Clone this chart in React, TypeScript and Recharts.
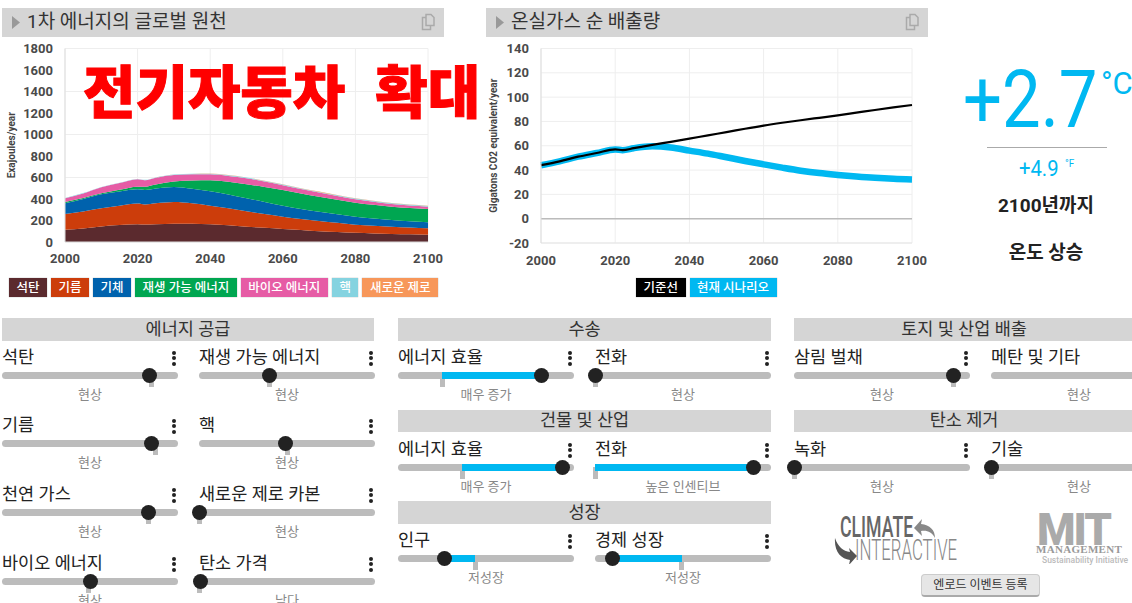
import { Area, AreaChart, CartesianGrid, Line, LineChart, ReferenceLine, XAxis, YAxis } from "recharts"

const FONT = 'Roboto, "Noto Sans CJK KR", sans-serif'
const BLUE = "#00b8f1"

const xTicks = [2000, 2020, 2040, 2060, 2080, 2100]
const sourceTicks = [0, 200, 400, 600, 800, 1000, 1200, 1400, 1600, 1800]
const emissionTicks = [-20, 0, 20, 40, 60, 80, 100, 120, 140]

// primary energy, exajoules per year, one thickness per layer
const energyYears = [2000, 2005, 2010, 2015, 2020, 2022, 2025, 2030, 2035, 2040, 2045, 2050, 2055, 2060, 2065, 2070, 2075, 2080, 2085, 2090, 2095, 2100]
const coal = [115, 125, 145, 158, 165, 162, 165, 170, 170, 165, 155, 142, 132, 122, 112, 100, 93, 85, 80, 75, 72, 68]
const oil = [145, 158, 168, 180, 192, 188, 195, 202, 190, 173, 158, 143, 128, 114, 103, 95, 85, 76, 71, 68, 62, 59]
const gas = [100, 117, 131, 132, 133, 134, 138, 140, 136, 134, 130, 122, 113, 102, 93, 87, 80, 75, 68, 62, 59, 56]
const renewables = [12, 10, 9, 16, 25, 31, 37, 50, 76, 103, 117, 130, 139, 146, 144, 140, 135, 130, 127, 124, 124, 124]
const bioenergy = [35, 42, 56, 62, 69, 60, 63, 62, 58, 55, 55, 56, 50, 44, 40, 38, 35, 32, 29, 25, 23, 22]
const nuclear = [3, 3, 3, 3, 3, 3, 3, 4, 5, 6, 6, 6, 6, 6, 6, 6, 6, 6, 6, 6, 6, 6]
const newZero = [0, 0, 0, 0, 0, 0, 0, 0, 1, 1, 2, 2, 2, 3, 3, 3, 3, 3, 3, 3, 3, 3]

const sourceNames = ["석탄", "기름", "기체", "재생 가능 에너지", "바이오 에너지", "핵", "새로운 제로"]
const sourceColors = ["#5b2a2e", "#cc3d0b", "#0062ad", "#00a651", "#e65ca5", "#85d3e0", "#f7975a"]
const sourceSeries = [coal, oil, gas, renewables, bioenergy, nuclear, newZero]

const energyRows = energyYears.map((year, i) => {
  const row: Record<string, number> = { year }
  sourceNames.forEach((name, s) => {
    row[name] = sourceSeries[s][i]
  })
  return row
})

// net emissions, gigatons CO2e per year
const emissionYears = [2000, 2005, 2010, 2015, 2020, 2022, 2025, 2030, 2035, 2040, 2045, 2050, 2055, 2060, 2065, 2070, 2075, 2080, 2085, 2090, 2095, 2100]
const baseline = [44, 47.2, 51, 54, 57, 56.4, 58, 60.7, 63.2, 65.8, 68.6, 71.2, 74, 76.6, 78.9, 81, 83, 85, 87.2, 89.4, 91.5, 93.5]
const scenario = [44, 47.2, 51, 54, 57, 56.4, 58, 59.5, 58.5, 56, 53.5, 50.5, 47.5, 44.7, 42, 39.5, 37.5, 36, 34.7, 33.6, 32.8, 32.3]

const emissionRows = emissionYears.map((year, i) => ({ year, baseline: baseline[i], scenario: scenario[i] }))

// sliders: [label, caption, knob, base], knob and base as a share of the track
type Control = [string, string, number, number]
const supplyControls: Control[] = [
  ["석탄", "현상", 0.838, 0.847],
  ["재생 가능 에너지", "현상", 0.398, 0.398],
  ["기름", "현상", 0.852, 0.87],
  ["핵", "현상", 0.494, 0.5],
  ["천연 가스", "현상", 0.835, 0.835],
  ["새로운 제로 카본", "현상", 0, 0],
  ["바이오 에너지", "현상", 0.5, 0.494],
  ["탄소 가격", "낮다", 0.011, 0],
]
const transportControls: Control[] = [
  ["에너지 효율", "매우 증가", 0.818, 0.25],
  ["전화", "현상", 0, 0],
]
const buildingControls: Control[] = [
  ["에너지 효율", "매우 증가", 0.932, 0.364],
  ["전화", "높은 인센티브", 0.898, 0],
]
const growthControls: Control[] = [
  ["인구", "저성장", 0.267, 0.4375],
  ["경제 성장", "저성장", 0.097, 0.494],
]
const landControls: Control[] = [
  ["삼림 벌채", "현상", 0.909, 0.909],
  ["메탄 및 기타", "현상", 0.9, 0.9],
]
const removalControls: Control[] = [
  ["녹화", "현상", 0, 0],
  ["기술", "현상", 0, 0],
]

const axisTick = { fontSize: 13, fontWeight: 700, fill: "#4a4a4a", fontFamily: FONT }

function Abs({ x, y, w, h, style, children }: any) {
  return <div style={{ position: "absolute", left: x, top: y, width: w, height: h, ...style }}>{children}</div>
}

function CopyIcon({ x, y }: { x: number; y: number }) {
  return (
    <svg style={{ position: "absolute", left: x, top: y }} width="16" height="18">
      <path d="M6 1.5h5l3 3v8h-8z M6 4.5H2.5v12h8v-4" fill="none" stroke="#aaa" strokeWidth="1.5" />
    </svg>
  )
}

function PanelTitle({ x, title }: { x: number; title: string }) {
  return (
    <Abs x={x} y={8} w={442} h={29} style={{ background: "#d5d5d5" }}>
      <svg style={{ position: "absolute", left: 10, top: 8 }} width="9" height="13">
        <path d="M0 0L8 6.5L0 13z" fill="#999" />
      </svg>
      <div style={{ position: "absolute", left: 25, top: 0, lineHeight: "28px", fontSize: 19, color: "#333", whiteSpace: "nowrap" }}>{title}</div>
      <CopyIcon x={418} y={5} />
    </Abs>
  )
}

function Badges({ x, names, colors }: any) {
  return (
    <div style={{ position: "absolute", left: x, top: 278, display: "flex", gap: 4 }}>
      {names.map((name: string, i: number) => (
        <div
          key={name}
          style={{
            background: colors[i],
            color: "#fff",
            fontSize: 12.5,
            fontWeight: 500,
            lineHeight: "19px",
            height: 19,
            padding: "0 7.5px",
            whiteSpace: "nowrap",
            boxShadow: "0 0 1px #999",
          }}
        >
          {name}
        </div>
      ))}
    </div>
  )
}

function SectionHeader({ x, y, w, h, title }: any) {
  return (
    <Abs x={x} y={y} w={w} h={h} style={{ background: "#d5d5d5", textAlign: "center", lineHeight: h - 1 + "px", fontSize: 17.5, color: "#333" }}>
      {title}
    </Abs>
  )
}

function Slider({ x, y, control }: { x: number; y: number; control: Control }) {
  const [label, caption, knob, base] = control
  const W = 176
  const knobX = knob * W
  const baseX = base * W
  const from = Math.min(knobX, baseX)
  const to = Math.max(knobX, baseX)
  return (
    <Abs x={x} y={y} w={W} h={0}>
      <div style={{ position: "absolute", left: -2, top: -30, fontSize: 17.5, lineHeight: "24px", color: "#222", whiteSpace: "nowrap", paddingLeft: 2 }}>{label}</div>
      {[-24.5, -19, -13.5].map((dy) => (
        <div key={dy} style={{ position: "absolute", left: 170, top: dy, width: 4, height: 4, borderRadius: 2, background: "#222" }} />
      ))}
      <div style={{ position: "absolute", left: 0, top: -3.5, width: W, height: 7, borderRadius: 3.5, background: "#bcbcbc" }} />
      <div style={{ position: "absolute", left: baseX - 2.5, top: 0, width: 5, height: 12, background: "#bcbcbc" }} />
      {to - from > 1 && <div style={{ position: "absolute", left: from, top: -3.5, width: to - from, height: 7, background: BLUE }} />}
      <div style={{ position: "absolute", left: knobX - 7.5, top: -7.5, width: 15, height: 15, borderRadius: 8, background: "#222" }} />
      <div style={{ position: "absolute", left: 0, width: W, top: 10.5, textAlign: "center", fontSize: 13, lineHeight: "18px", color: "#888" }}>{caption}</div>
    </Abs>
  )
}

function SliderRow({ x, y, controls }: { x: number; y: number; controls: Control[] }) {
  return (
    <>
      <Slider x={x} y={y} control={controls[0]} />
      <Slider x={x + 197} y={y} control={controls[1]} />
    </>
  )
}

export default function App() {
  return (
    <div style={{ position: "fixed", left: 0, top: 0, width: 1132, height: 603, overflow: "hidden", background: "#fff", fontFamily: FONT }}>
      <PanelTitle x={2} title="1차 에너지의 글로벌 원천" />
      <PanelTitle x={486} title="온실가스 순 배출량" />

      <Abs x={0} y={0} w={450} h={275}>
        <AreaChart width={450} height={275} data={energyRows} margin={{ top: 48.5, right: 22, bottom: 10, left: 10 }}>
          <CartesianGrid stroke="#eeeeee" />
          <XAxis dataKey="year" type="number" domain={[2000, 2100]} ticks={xTicks} height={23} tick={axisTick} tickLine={false} axisLine={{ stroke: "#dddddd" }} tickMargin={6} />
          <YAxis
            domain={[0, 1800]}
            ticks={sourceTicks}
            width={55}
            tick={axisTick}
            tickLine={false}
            axisLine={{ stroke: "#dddddd" }}
            tickMargin={6}
            label={{ value: "Exajoules/year", angle: -90, position: "insideLeft", offset: 0, dx: 1, dy: 0, style: { fontSize: 10, fontWeight: 700, fill: "#444", textAnchor: "middle" } }}
          />
          {sourceNames.map((name, i) => (
            <Area key={name} dataKey={name} stackId="energy" type="monotone" fill={sourceColors[i]} fillOpacity={1} stroke="none" isAnimationActive={false} />
          ))}
        </AreaChart>
      </Abs>

      <Abs x={480} y={0} w={450} h={275}>
        <LineChart width={450} height={275} data={emissionRows} margin={{ top: 48.5, right: 18, bottom: 10, left: 10 }}>
          <CartesianGrid stroke="#eeeeee" />
          <XAxis dataKey="year" type="number" domain={[2000, 2100]} ticks={xTicks} height={22} tick={axisTick} tickLine={false} axisLine={{ stroke: "#e5e5e5" }} tickMargin={7} />
          <YAxis
            domain={[-20, 140]}
            ticks={emissionTicks}
            width={51}
            tick={axisTick}
            tickLine={false}
            axisLine={{ stroke: "#dddddd" }}
            tickMargin={6}
            label={{ value: "Gigatons CO2 equivalent/year", angle: -90, position: "insideLeft", offset: 0, dx: 3, dy: 0, style: { fontSize: 10, fontWeight: 700, fill: "#444", textAnchor: "middle" } }}
          />
          <ReferenceLine y={0} stroke="#bbbbbb" strokeWidth={1.5} />
          <Line dataKey="scenario" type="monotone" stroke={BLUE} strokeWidth={6.5} dot={false} isAnimationActive={false} />
          <Line dataKey="baseline" type="monotone" stroke="#000" strokeWidth={2.2} dot={false} isAnimationActive={false} />
        </LineChart>
      </Abs>

      <div style={{ position: "absolute", left: 83, top: 48, fontSize: 57, lineHeight: "80px", fontWeight: 900, color: "#ff0000", whiteSpace: "nowrap", wordSpacing: 17, fontFamily: '"Noto Sans CJK KR", sans-serif', WebkitTextStroke: "1px #ff0000" }}>
        전기자동차 확대
      </div>

      <Badges x={9} names={sourceNames} colors={sourceColors} />
      <Badges x={636} names={["기준선", "현재 시나리오"]} colors={["#000000", BLUE]} />

      <div style={{ position: "absolute", left: 963, top: 45, fontSize: 80, lineHeight: "110px", fontWeight: 400, color: BLUE, whiteSpace: "nowrap", transform: "scaleX(0.86)", transformOrigin: "left top" }}>+2.7</div>
      <div style={{ position: "absolute", left: 1101, top: 66, fontSize: 31, lineHeight: "36px", fontWeight: 400, color: BLUE, whiteSpace: "nowrap" }}>°C</div>
      <Abs x={987} y={147} w={120} h={1} style={{ background: "#aaa" }} />
      <div style={{ position: "absolute", left: 1019, top: 155, fontSize: 22, lineHeight: "28px", fontWeight: 400, color: BLUE, whiteSpace: "nowrap", transform: "scaleX(0.92)", transformOrigin: "left top" }}>+4.9</div>
      <div style={{ position: "absolute", left: 1065, top: 158, fontSize: 10, lineHeight: "12px", color: BLUE }}>°F</div>
      <Abs x={960} y={194} w={172} h={24} style={{ textAlign: "center", fontSize: 19, fontWeight: 700, lineHeight: "24px", color: "#222" }}>2100년까지</Abs>
      <Abs x={960} y={241} w={172} h={24} style={{ textAlign: "center", fontSize: 19, fontWeight: 700, lineHeight: "24px", color: "#222" }}>온도 상승</Abs>

      <SectionHeader x={2} y={318} w={372} h={23} title="에너지 공급" />
      <SliderRow x={2} y={375} controls={supplyControls.slice(0, 2)} />
      <SliderRow x={2} y={443} controls={supplyControls.slice(2, 4)} />
      <SliderRow x={2} y={512} controls={supplyControls.slice(4, 6)} />
      <SliderRow x={2} y={581} controls={supplyControls.slice(6, 8)} />

      <SectionHeader x={398} y={318} w={373} h={23} title="수송" />
      <SliderRow x={398} y={375} controls={transportControls} />
      <SectionHeader x={398} y={410} w={373} h={22} title="건물 및 산업" />
      <SliderRow x={398} y={467} controls={buildingControls} />
      <SectionHeader x={398} y={501} w={373} h={23} title="성장" />
      <SliderRow x={398} y={558} controls={growthControls} />

      <SectionHeader x={794} y={318} w={340} h={23} title="토지 및 산업 배출" />
      <SliderRow x={794} y={375} controls={landControls} />
      <SectionHeader x={794} y={410} w={340} h={22} title="탄소 제거" />
      <SliderRow x={794} y={467} controls={removalControls} />

      {/* logos */}
      <div style={{ position: "absolute", left: 840, top: 516, fontSize: 29, lineHeight: "22px", fontWeight: 500, color: "#666", transform: "scaleX(0.61)", transformOrigin: "left top", whiteSpace: "nowrap" }}>CLIMATE</div>
      <div style={{ position: "absolute", left: 855, top: 539, fontSize: 29, lineHeight: "22px", fontWeight: 300, color: "#888", transform: "scaleX(0.58)", transformOrigin: "left top", whiteSpace: "nowrap" }}>INTERACTIVE</div>
      <svg style={{ position: "absolute", left: 832, top: 514 }} width="104" height="50">
        <path d="M82 14L90 5L89 10C98 11 103 16 103 24C100 18 95 16 89 17L90 22z" fill="#888" />
        <path d="M25 42L17 51L18 46C9 45 2 38 3 24C6 33 11 37 18 38L17 34z" fill="#555" />
      </svg>
      <div style={{ position: "absolute", left: 1037, top: 515, fontSize: 44, lineHeight: "30px", fontWeight: 900, color: "#aaa", letterSpacing: -2 }}>MIT</div>
      <div style={{ position: "absolute", left: 1036, top: 543, fontSize: 11, lineHeight: "12px", fontWeight: 900, color: "#999", fontFamily: '"Liberation Serif", serif', letterSpacing: 0.3 }}>MANAGEMENT</div>
      <div style={{ position: "absolute", left: 1042, top: 555, fontSize: 8.5, lineHeight: "10px", fontWeight: 500, color: "#bbb", whiteSpace: "nowrap" }}>Sustainability Initiative</div>

      <Abs x={921} y={574} w={119} h={23} style={{ background: "#e6e6e6", border: "1px solid #ccc", borderBottom: "2px solid #aaa", borderRadius: 4, boxSizing: "border-box", textAlign: "center", fontSize: 12, lineHeight: "20px", color: "#333" }}>
        엔로드 이벤트 등록
      </Abs>
    </div>
  )
}
